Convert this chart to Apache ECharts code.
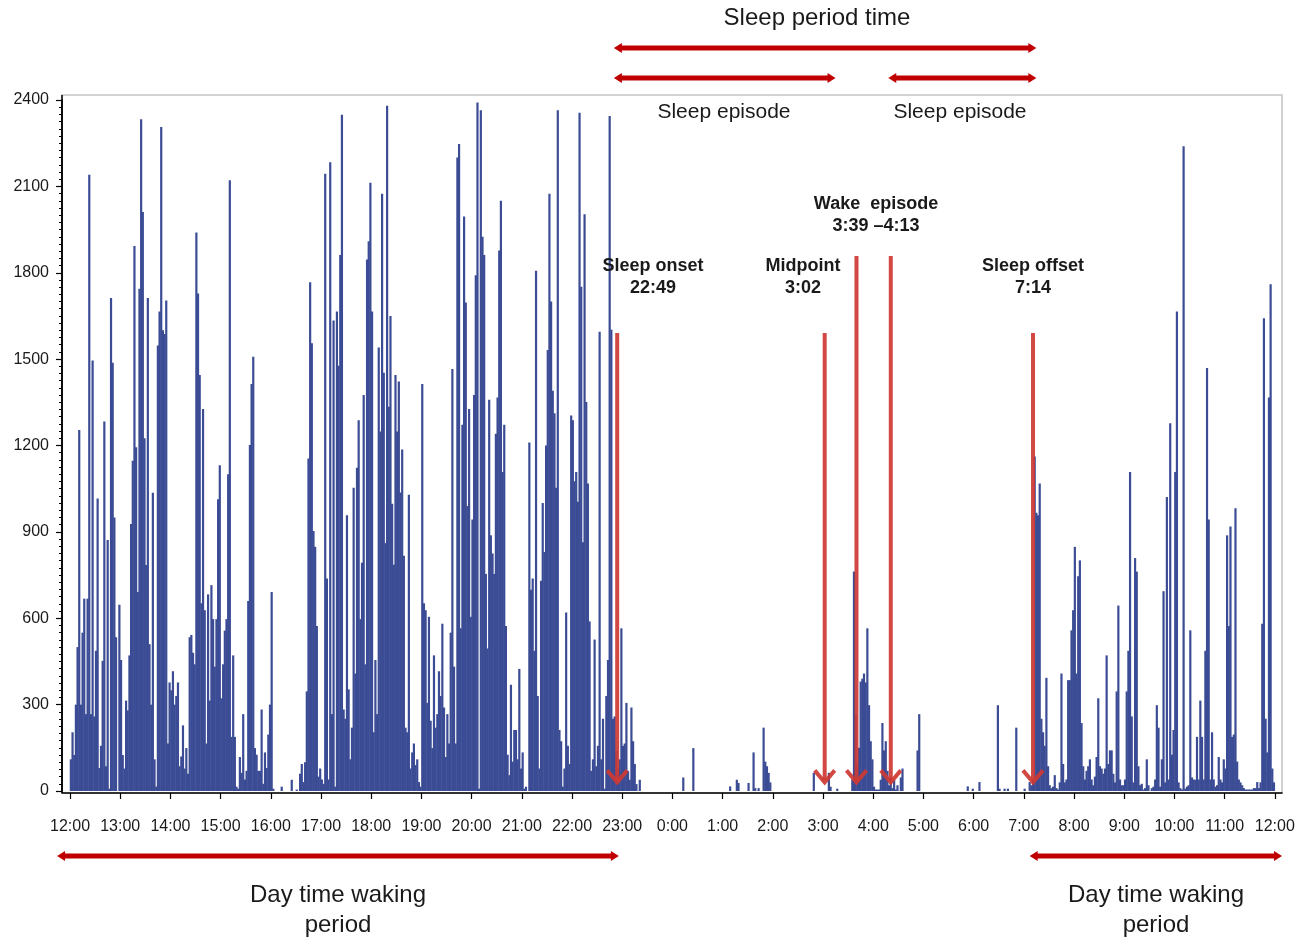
<!DOCTYPE html>
<html>
<head>
<meta charset="utf-8">
<script src="https://cdn.jsdelivr.net/npm/echarts@6/dist/echarts.min.js"></script>
<style>
  html, body { margin: 0; padding: 0; background: #fff; }
  #chart { width: 1303px; height: 941px; }
</style>
</head>
<body>
<div id="chart"></div>
<script>
// activity counts per 2-minute epoch, one array per 2-hour block, starting 12:00
const block1200 = [
  110, 204, 125, 300, 500, 1254, 300, 550, 668, 267,
  668, 2140, 267, 1495, 259, 487, 1016, 80, 157, 452,
  1283, 86, 872, 8, 1712, 1487, 950, 534, 0, 647,
  455, 125, 78, 314, 280, 471, 927, 1147, 1893, 1194,
  691, 1744, 2333, 2011, 1225, 785, 1712, 510, 300, 1036,
  110, 15, 1547, 1665, 2306, 1600, 1587, 1704, 165, 377
];
const block1400 = [
  350, 416, 300, 330, 377, 86, 120, 228, 78, 149,
  60, 534, 542, 480, 440, 1940, 1728, 1445, 652, 1327,
  628, 165, 683, 314, 715, 597, 432, 597, 1013, 1131,
  322, 440, 557, 597, 1100, 2121, 188, 471, 188, 15,
  8, 118, 63, 267, 40, 70, 660, 1202, 1414, 1508,
  149, 126, 70, 70, 283, 25, 134, 80, 196, 300
];
const block1600 = [
  691, 8, 0, 0, 0, 0, 15, 0, 0, 0,
  0, 0, 39, 0, 0, 5, 0, 60, 94, 31,
  100, 346, 1155, 1767, 1555, 903, 848, 573, 50, 78,
  40, 25, 2144, 738, 40, 2184, 267, 1634, 15, 1665,
  1477, 1862, 2349, 283, 251, 958, 353, 110, 220, 1053,
  408, 1123, 1288, 597, 793, 1375, 440, 1846, 1909, 2113
];
const block1800 = [
  1665, 204, 455, 267, 1540, 1249, 2074, 1453, 861, 2380,
  1335, 1650, 998, 786, 1445, 1249, 1422, 1037, 1186, 817,
  220, 204, 1029, 78, 134, 165, 90, 110, 31, 15,
  1414, 652, 628, 306, 605, 244, 149, 471, 220, 267,
  416, 330, 581, 290, 118, 267, 165, 550, 1466, 432,
  165, 2200, 2247, 565, 1272, 1995, 1697, 990, 1327, 605
];
const block2000 = [
  943, 1375, 1791, 2391, 8, 2364, 1925, 1862, 754, 495,
  1359, 888, 825, 754, 1241, 1367, 1877, 2050, 1108, 1272,
  573, 126, 55, 369, 102, 212, 212, 110, 424, 78,
  134, 8, 15, 0, 1210, 699, 738, 487, 1807, 330,
  78, 730, 1000, 830, 1200, 1532, 2074, 1700, 1390, 1312,
  1053, 2364, 212, 173, 15, 78, 620, 157, 94, 1304
];
const block2200 = [
  1288, 1076, 1108, 1005, 2356, 1751, 864, 2003, 1351, 1068,
  589, 70, 110, 526, 86, 157, 1595, 110, 251, 8,
  330, 455, 2344, 1602, 251, 259, 141, 78, 110, 565,
  157, 165, 306, 70, 39, 290, 173, 94, 24, 0,
  39, 0, 0, 0, 0, 0, 0, 0, 0, 0,
  0, 0, 0, 0, 0, 0, 0, 0, 0, 0
];
const block0000 = [
  0, 0, 0, 0, 0, 0, 47, 0, 0, 0,
  0, 0, 149, 0, 0, 0, 0, 0, 0, 0,
  0, 0, 0, 0, 0, 0, 0, 0, 0, 0,
  0, 0, 0, 0, 16, 0, 0, 0, 39, 28,
  0, 0, 0, 0, 0, 28, 0, 0, 134, 10,
  0, 10, 0, 0, 220, 102, 86, 63, 30, 0
];
const block0200 = [
  0, 0, 0, 0, 0, 0, 0, 0, 0, 0,
  0, 0, 0, 0, 0, 0, 0, 0, 0, 0,
  0, 0, 0, 0, 63, 0, 0, 0, 0, 0,
  0, 0, 0, 63, 15, 0, 0, 0, 8, 0,
  0, 0, 0, 0, 0, 0, 0, 40, 762, 267,
  94, 150, 380, 390, 408, 377, 565, 298, 173, 110
];
const block0400 = [
  15, 5, 5, 5, 39, 236, 141, 173, 70, 20,
  47, 10, 39, 5, 20, 0, 47, 78, 0, 0,
  0, 0, 0, 0, 0, 0, 141, 267, 0, 0,
  0, 0, 0, 0, 0, 0, 0, 0, 0, 0,
  0, 0, 0, 0, 0, 0, 0, 0, 0, 0,
  0, 0, 0, 0, 0, 0, 16, 0, 0, 8
];
const block0600 = [
  0, 0, 0, 31, 0, 0, 0, 0, 0, 0,
  0, 0, 0, 0, 298, 8, 0, 0, 8, 0,
  8, 0, 0, 0, 0, 220, 0, 0, 0, 0,
  8, 0, 0, 31, 20, 39, 1162, 966, 958, 1068,
  251, 204, 157, 393, 86, 20, 10, 15, 55, 10,
  5, 30, 408, 94, 30, 40, 385, 385, 558, 628
];
const block0800 = [
  848, 408, 746, 801, 236, 86, 40, 70, 86, 110,
  40, 20, 50, 118, 322, 86, 78, 60, 78, 471,
  94, 141, 141, 60, 30, 346, 644, 40, 20, 20,
  40, 346, 487, 1108, 259, 30, 809, 762, 86, 20,
  25, 5, 10, 110, 20, 0, 10, 15, 40, 298,
  220, 15, 110, 694, 30, 1021, 40, 1277, 126, 212
];
const block1000 = [
  1108, 1665, 30, 10, 5, 2239, 8, 15, 20, 558,
  47, 40, 39, 188, 40, 314, 188, 40, 487, 1469,
  943, 40, 204, 40, 15, 20, 118, 40, 30, 110,
  78, 888, 573, 919, 188, 196, 982, 102, 40, 30,
  20, 10, 5, 5, 5, 5, 5, 10, 10, 31,
  10, 30, 581, 1642, 251, 134, 1367, 1760, 78, 30
];

const counts = [].concat(block1200, block1400, block1600, block1800, block2000, block2200,
  block0000, block0200, block0400, block0600, block0800, block1000);

const hourLabels = ['12:00', '13:00', '14:00', '15:00', '16:00', '17:00', '18:00', '19:00',
  '20:00', '21:00', '22:00', '23:00', '0:00', '1:00', '2:00', '3:00', '4:00', '5:00',
  '6:00', '7:00', '8:00', '9:00', '10:00', '11:00', '12:00'];
const hourTicks = hourLabels.map((_, i) => i * 60);

// event times in minutes after 12:00, as drawn
const sleepOnset = 654;
const midpoint = 902;
const wakeStart = 940;
const wakeEnd = 981;
const sleepOffset = 1151;

const X_MIN = -9.6, X_MAX = 1448.6;
const FONT = '"Liberation Sans", Arial, Helvetica, sans-serif';
const RED = '#c00000';
const ARROW = 'rgba(206, 58, 52, 0.92)';

const chart = echarts.init(document.getElementById('chart'), null, { renderer: 'canvas' });

chart.setOption({
  animation: false,
  textStyle: { fontFamily: FONT },
  grid: { left: 62, right: 21, top: 100, bottom: 150, containLabel: false },
  xAxis: {
    type: 'value',
    min: X_MIN,
    max: X_MAX,
    offset: 2,
    axisLine: { show: true, onZero: false, lineStyle: { color: '#000', width: 1.5 } },
    axisTick: { show: true, inside: false, customValues: hourTicks, length: 6, lineStyle: { color: '#000', width: 1.2 } },
    axisLabel: {
      customValues: hourTicks,
      formatter: (v) => hourLabels[Math.round(v / 60)],
      fontSize: 16,
      color: '#1a1a1a',
      margin: 26
    },
    splitLine: { show: false }
  },
  yAxis: {
    type: 'value',
    min: 0,
    max: 2400,
    interval: 300,
    axisLine: { show: true, onZero: false, lineStyle: { color: '#000', width: 1.5 } },
    axisTick: { show: true, inside: false, length: 6, lineStyle: { color: '#000', width: 1.2 } },
    minorTick: { show: true, splitNumber: 12, length: 3, lineStyle: { color: '#000', width: 1 } },
    axisLabel: { fontSize: 16, color: '#1a1a1a', margin: 13, formatter: (v) => String(v) },
    splitLine: { show: false }
  },
  series: [{
    type: 'bar',
    data: counts.map((v, i) => [i * 2 + 1, v]),
    barWidth: 2.2,
    itemStyle: { color: '#3b4c95' },
    silent: true
  }]
});

const px = (m) => chart.convertToPixel({ xAxisIndex: 0 }, m);
const py = (v) => chart.convertToPixel({ yAxisIndex: 0 }, v);

function hArrow(m1, m2, y) {
  const x1 = px(m1), x2 = px(m2);
  return [
    { type: 'line', z: 100, shape: { x1: x1 + 5, y1: y, x2: x2 - 5, y2: y }, style: { stroke: RED, lineWidth: 5 } },
    { type: 'polygon', z: 100, shape: { points: [[x1, y], [x1 + 8, y - 5], [x1 + 8, y + 5]] }, style: { fill: RED } },
    { type: 'polygon', z: 100, shape: { points: [[x2, y], [x2 - 8, y - 5], [x2 - 8, y + 5]] }, style: { fill: RED } }
  ];
}

function vArrow(m, vTop) {
  const x = px(m), y1 = py(vTop), y2 = py(30);
  return [
    { type: 'line', z: 100, shape: { x1: x, y1: y1, x2: x, y2: y2 - 2 }, style: { stroke: ARROW, lineWidth: 4 } },
    { type: 'polyline', z: 100, shape: { points: [[x - 10, y2 - 12], [x, y2], [x + 10, y2 - 12]] },
      style: { stroke: ARROW, lineWidth: 4, fill: null, lineJoin: 'miter' } }
  ];
}

function label(text, x, y, font) {
  return { type: 'text', z: 100, x: x, y: y,
    style: { text: text, font: font, fill: '#1a1a1a', textAlign: 'center', textVerticalAlign: 'middle' } };
}

const gridRect = chart.getModel().getComponent('grid').coordinateSystem.getRect();
const frameTop = 95, frameBottom = 793;

const graphics = [
  { type: 'rect', z: -1, shape: { x: gridRect.x, y: frameTop, width: gridRect.width, height: frameBottom - frameTop },
    style: { fill: null, stroke: '#c4c4c4', lineWidth: 1.5 } },
  { type: 'line', z: 50, shape: { x1: gridRect.x, y1: frameTop, x2: gridRect.x, y2: frameBottom },
    style: { stroke: '#000', lineWidth: 1.5 } },

  label('Sleep period time', 817, 18, '24px ' + FONT),
  label('Sleep episode', 724, 112, '21px ' + FONT),
  label('Sleep episode', 960, 112, '21px ' + FONT),

  label('Sleep onset', 653, 266, 'bold 18px ' + FONT),
  label('22:49', 653, 288, 'bold 18px ' + FONT),
  label('Midpoint', 803, 266, 'bold 18px ' + FONT),
  label('3:02', 803, 288, 'bold 18px ' + FONT),
  label('Wake  episode', 876, 204, 'bold 18px ' + FONT),
  label('3:39 \u20134:13', 876, 226, 'bold 18px ' + FONT),
  label('Sleep offset', 1033, 266, 'bold 18px ' + FONT),
  label('7:14', 1033, 288, 'bold 18px ' + FONT),

  label('Day time waking', 338, 895, '24px ' + FONT),
  label('period', 338, 925, '24px ' + FONT),
  label('Day time waking', 1156, 895, '24px ' + FONT),
  label('period', 1156, 925, '24px ' + FONT)
].concat(
  hArrow(650, 1155, 48),
  hArrow(650, 915, 78),
  hArrow(978, 1155, 78),
  hArrow(-15.5, 656, 856),
  hArrow(1147, 1448.6, 856),
  vArrow(sleepOnset, 1591),
  vArrow(midpoint, 1591),
  vArrow(wakeStart, 1858),
  vArrow(wakeEnd, 1858),
  vArrow(sleepOffset, 1591)
);

chart.setOption({ graphic: { elements: graphics } });
</script>
</body>
</html>
